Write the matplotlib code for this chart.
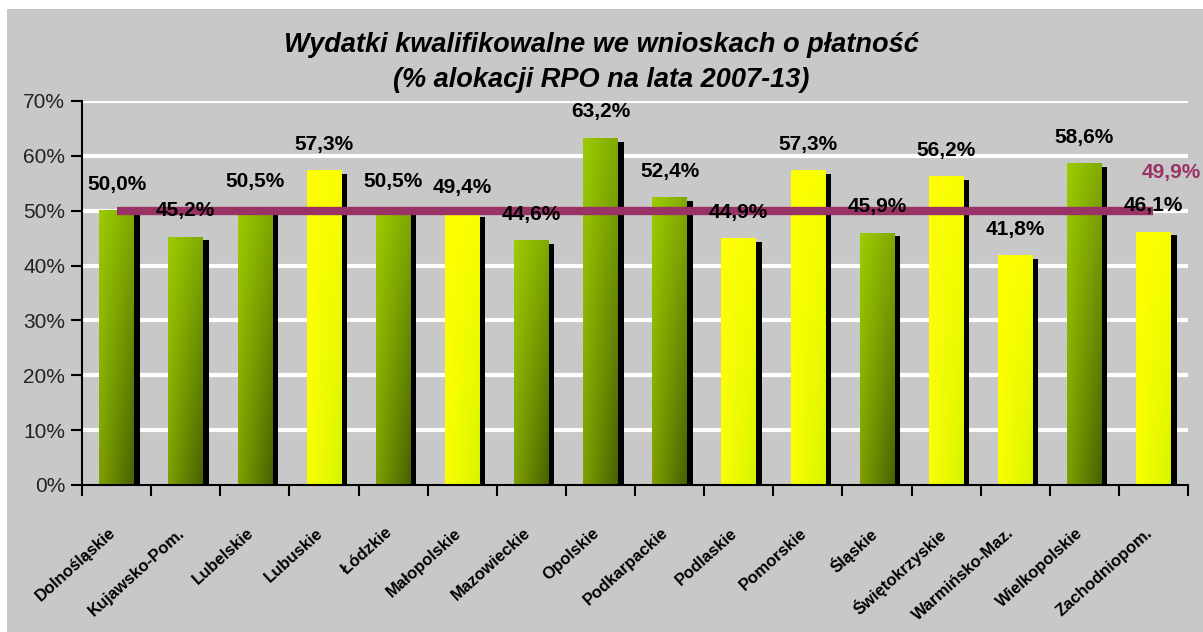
import numpy as np
import matplotlib
matplotlib.use('Agg')
import matplotlib.pyplot as plt
from matplotlib.patches import Rectangle

plt.rcParams['font.family'] = ['Liberation Sans', 'DejaVu Sans']

# data
regions = ['Dolnośląskie', 'Kujawsko-Pom.', 'Lubelskie', 'Lubuskie', 'Łódzkie',
           'Małopolskie', 'Mazowieckie', 'Opolskie', 'Podkarpackie', 'Podlaskie',
           'Pomorskie', 'Śląskie', 'Świętokrzyskie', 'Warmińsko-Maz.',
           'Wielkopolskie', 'Zachodniopom.']
values = [50.0, 45.2, 50.5, 57.3, 50.5, 49.4, 44.6, 63.2,
          52.4, 44.9, 57.3, 45.9, 56.2, 41.8, 58.6, 46.1]
# 'g' = green bar, 'y' = yellow bar
groups = ['g', 'g', 'g', 'y', 'g', 'y', 'g', 'g',
          'g', 'y', 'y', 'g', 'y', 'y', 'g', 'y']
average = 49.9
yticks = [0, 10, 20, 30, 40, 50, 60, 70]

bg = '#c8c8c8'
W, H = 1203, 632
fig = plt.figure(figsize=(W / 100, H / 100), dpi=100, facecolor='white')
fig.add_artist(Rectangle((7 / W, 0), 1, 1 - 9 / H, transform=fig.transFigure,
                         facecolor=bg, edgecolor='none', zorder=-10))

ax = fig.add_axes([82 / W, 147 / H, 1106 / W, 384 / H])
ax.set_facecolor(bg)
ax.patch.set_alpha(0)


def gradient(kind, n=40):
    # colour ramps, left->right and top->bottom
    if kind == 'g':
        tl, tr = np.array([0x9c, 0xcc, 0x00]), np.array([0x80, 0xa8, 0x00])
        bl, br = np.array([0x7e, 0xa0, 0x00]), np.array([0x48, 0x62, 0x00])
    else:
        tl, tr = np.array([0xff, 0xff, 0x00]), np.array([0xf8, 0xff, 0x00])
        bl, br = np.array([0xfa, 0xff, 0x00]), np.array([0xd8, 0xf4, 0x00])
    u = np.linspace(0, 1, n)[None, :, None]
    v = np.linspace(0, 1, n)[:, None, None]
    top = tl * (1 - u) + tr * u
    bot = bl * (1 - u) + br * u
    img = top * (1 - v) + bot * v
    return img / 255.0


bw = 0.5
for i, (val, g) in enumerate(zip(values, groups)):
    # shadow
    ax.bar(i + 0.085, val - 0.6, width=bw, color='black', zorder=2)
    ax.imshow(gradient(g), extent=[i - bw / 2, i + bw / 2, 0, val],
              aspect='auto', zorder=3, interpolation='bilinear')
    ax.text(i, val + 4.8, f'{val:.1f}%'.replace('.', ','), ha='center', va='center',
            fontsize=15, fontweight='bold', color='black', zorder=6)

ax.plot([0, len(values) - 1], [average, average], color='#993366', lw=6,
        solid_capstyle='butt', zorder=5)
ax.text(len(values) - 1 - 0.17, 57, f'{average:.1f}%'.replace('.', ','),
        ha='left', va='center', fontsize=15, fontweight='bold', color='#993366',
        clip_on=False)

ax.set_xlim(-0.5, len(values) - 0.5)
ax.set_ylim(0, 70)
for y in yticks[1:]:
    ax.axhline(y, color='white', lw=3, zorder=1)

ax.set_yticks(yticks)
ax.set_yticklabels([f'{y}%' for y in yticks], fontsize=15, color='#222222')
ax.tick_params(axis='y', length=8, width=1.5, pad=4)

ax.set_xticks(np.arange(len(values) + 1) - 0.5)
ax.set_xticklabels([])
ax.tick_params(axis='x', length=8, width=1.5)

for i, name in enumerate(regions):
    ax.text(i - 0.12, -7.3, name, rotation=42, ha='right', va='top',
            rotation_mode='anchor', fontsize=12, fontweight='bold', color='black')

for s in ['top', 'right']:
    ax.spines[s].set_visible(False)
for s in ['left', 'bottom']:
    ax.spines[s].set_linewidth(1.5)
    ax.spines[s].set_zorder(7)

fig.text(0.5, 1 - 45 / H, 'Wydatki kwalifikowalne we wnioskach o płatność',
         ha='center', va='center', fontsize=19.5, style='italic',
         fontweight='bold', color='black')
fig.text(0.5, 1 - 80 / H, '(% alokacji RPO na lata 2007-13)',
         ha='center', va='center', fontsize=19.5, style='italic',
         fontweight='bold', color='black')

fig.savefig('out.png', dpi=100, facecolor=fig.get_facecolor())
